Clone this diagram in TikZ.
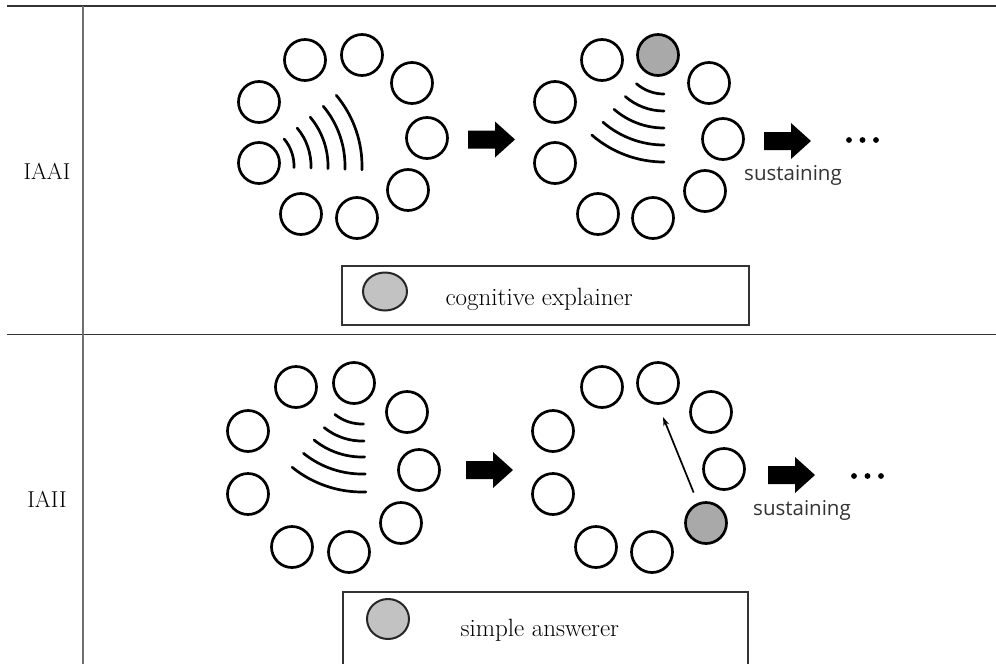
\documentclass[tikz,border=0pt]{standalone}
\usepackage{fontspec}
\newfontfamily\labelsans{Open Sans}
\usetikzlibrary{arrows.meta, shapes.geometric}
\definecolor{ringgray}{HTML}{A9A9A9}
\definecolor{keygray}{HTML}{C2C2C2}
\definecolor{rulegray}{HTML}{707070}

\tikzset{
  ring/.style={circle, draw, line width=2.7pt, minimum size=41pt, inner sep=0pt},
  keydot/.style={ellipse, draw=black!85, fill=keygray, line width=2pt, inner sep=0pt},
  wave/.style={line width=2.7pt, line cap=round},
  fatarrow/.pic={\fill (0,-9) -- (27,-9) -- (27,-18) -- (47,0) -- (27,18) -- (27,9) -- (0,9) -- cycle;},
}

\begin{document}
\begin{tikzpicture}[x=1pt, y=-1pt]
  \useasboundingbox (0,0) rectangle (996,664);

  % --- table rules ---
  \draw[black!80, line width=1.2pt] (7,6) -- (996,6);
  \draw[black!80, line width=1.2pt] (7,334.5) -- (996,334.5);
  \draw[rulegray, line width=1.8pt] (83,6) -- (83,664);

  \node[font=\fontsize{23}{26}\selectfont] (rowa) at (47,171) {IAAI};
  \node[font=\fontsize{23}{26}\selectfont] (rowb) at (47,499) {IAII};

  % --- IAAI, before ---
  \node[ring] (tl1) at (305,60)  {};
  \node[ring] (tl2) at (362,55)  {};
  \node[ring] (tl3) at (412,83)  {};
  \node[ring] (tl4) at (427,138) {};
  \node[ring] (tl5) at (408,190) {};
  \node[ring] (tl6) at (357,218) {};
  \node[ring] (tl7) at (301,214) {};
  \node[ring] (tl8) at (259,163) {};
  \node[ring] (tl9) at (259,102) {};
  \foreach \r in {42,59,76,93,110}
    \draw[wave] (252,166) ++(-40:\r) arc[start angle=-40, end angle=2, radius=\r];

  \pic at (468,139.5) {fatarrow};

  % --- IAAI, after ---
  \node[ring] (tr1) at (602,60)  {};
  \node[ring, fill=ringgray] (tr2) at (658,55) {};
  \node[ring] (tr3) at (709,83)  {};
  \node[ring] (tr4) at (723,139) {};
  \node[ring] (tr5) at (705,191) {};
  \node[ring] (tr6) at (653,218) {};
  \node[ring] (tr7) at (598,214) {};
  \node[ring] (tr8) at (555,163) {};
  \node[ring] (tr9) at (555,102) {};
  \foreach \r in {42,59,76,93,110}
    \draw[wave] (664,52) ++(131:\r) arc[start angle=131, end angle=90, radius=\r];

  \pic at (764,141) {fatarrow};
  \node[font=\labelsans\fontsize{20.5}{22}\selectfont, text=black!80] (susta) at (793,175) {sustaining};
  \fill (849,140) circle[radius=2.9] (862.5,140) circle[radius=2.9] (876,140) circle[radius=2.9];

  % legend
  \draw[black!80, line width=1.1pt] (342,266) rectangle (749,325);
  \node[keydot, minimum width=44pt, minimum height=38pt] (keya) at (385,291.5) {};
  \node[anchor=base west, font=\fontsize{25}{28}\selectfont] (keyatext) at (442,305) {cognitive explainer};

  % --- IAII, before ---
  \node[ring] (bl1) at (296,387) {};
  \node[ring] (bl2) at (354,383) {};
  \node[ring] (bl3) at (407,412) {};
  \node[ring] (bl4) at (419,470) {};
  \node[ring] (bl5) at (401,523) {};
  \node[ring] (bl6) at (349,552) {};
  \node[ring] (bl7) at (292,547) {};
  \node[ring] (bl8) at (248,494) {};
  \node[ring] (bl9) at (248,431) {};
  \foreach \r in {43,60,76,93,111}
    \draw[wave] (362,381) ++(129:\r) arc[start angle=129, end angle=88, radius=\r];

  \pic at (466,470) {fatarrow};

  % --- IAII, after ---
  \node[ring] (br1) at (602,387) {};
  \node[ring] (br2) at (658,383) {};
  \node[ring] (br3) at (711,412) {};
  \node[ring] (br4) at (724,469) {};
  \node[ring, fill=ringgray] (br5) at (706,523) {};
  \node[ring] (br6) at (652,552) {};
  \node[ring] (br7) at (596,547) {};
  \node[ring] (br8) at (553,494) {};
  \node[ring] (br9) at (553,431) {};
  \coordinate (pass) at (663,417);
  \draw[line width=1.7pt, -{Stealth[length=9pt, width=6pt]}, shorten <=11pt] (br5) -- (pass);

  \pic at (768,475) {fatarrow};
  \node[font=\labelsans\fontsize{20.5}{22}\selectfont, text=black!80] (sustb) at (802,510) {sustaining};
  \fill (854,476) circle[radius=2.9] (867.5,476) circle[radius=2.9] (881,476) circle[radius=2.9];

  % legend
  \draw[black!80, line width=1.1pt] (343,664) |- (748,592) -- (748,664);
  \node[keydot, minimum width=42pt, minimum height=40pt] (keyb) at (388,619) {};
  \node[anchor=base west, font=\fontsize{25}{28}\selectfont] (keybtext) at (457,636) {simple answerer};
\end{tikzpicture}
\end{document}
